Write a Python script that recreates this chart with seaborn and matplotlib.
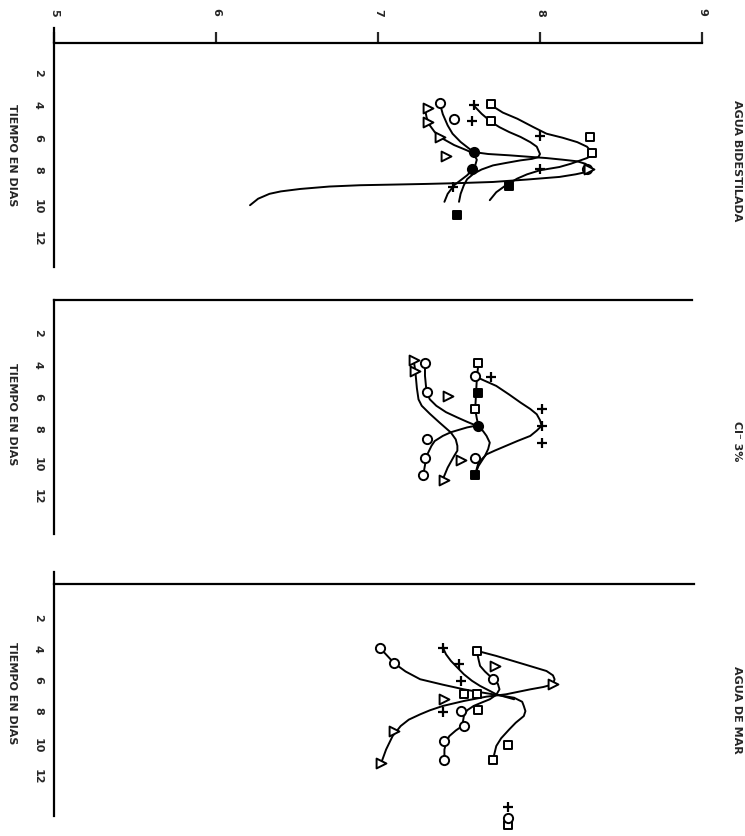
import pandas as pd
import seaborn as sns
import matplotlib.pyplot as plt

PH_TICKS = [5, 6, 7, 8, 9]
DAY_TICKS = [2, 4, 6, 8, 10, 12]
TITLES = ['AGUA BIDESTILADA', 'Cl\u207b 3%', 'AGUA DE MAR']
XLABEL = 'TIEMPO EN DIAS'

# ---- panel 1 : agua bidestilada  (day, pH)
p1_open_sq = [(4, 7.70), (5, 7.70), (6, 8.31), (7, 8.32)]
p1_open_ci = [(3.9, 7.38), (4.9, 7.47), (8, 8.29)]
p1_tri = [(4.2, 7.31), (5.1, 7.31), (6, 7.38), (7.2, 7.42), (8, 8.30)]
p1_plus = [(4.05, 7.59), (5, 7.58), (5.95, 8.0), (8, 8.0), (9.1, 7.46)]
p1_fill_ci = [(6.95, 7.59), (7.95, 7.58)]
p1_fill_sq = [(9, 7.81), (10.8, 7.49)]

p1_curve_sq = [(4.06, 7.70), (4.5, 7.77), (4.88, 7.86), (5.4, 7.96), (5.80, 8.04), (6.05, 8.14),
               (6.32, 8.23), (6.6, 8.29), (6.83, 8.31), (7.13, 8.32), (7.3, 8.29), (7.44, 8.25),
               (7.65, 8.19), (7.85, 8.12), (8.05, 8.0), (8.3, 7.92), (8.56, 7.86), (8.97, 7.79),
               (9.4, 7.73), (9.89, 7.69)]
p1_curve_plus = [(4.06, 7.59), (4.58, 7.64), (5.09, 7.70), (5.4, 7.75), (5.70, 7.81), (6.0, 7.88),
                 (6.32, 7.94), (6.6, 7.98), (6.83, 7.99), (7.05, 8.0), (7.24, 7.99), (7.35, 7.95),
                 (7.44, 7.88), (7.6, 7.79), (7.75, 7.71), (8.0, 7.64), (8.26, 7.59), (8.6, 7.55),
                 (8.97, 7.53), (9.5, 7.51), (9.99, 7.50)]
p1_curve_ci = [(3.86, 7.38), (4.6, 7.40), (5.29, 7.43), (5.8, 7.46), (6.31, 7.51), (6.7, 7.56),
               (6.93, 7.59), (7.05, 7.68), (7.13, 7.81), (7.22, 7.93), (7.30, 8.04), (7.40, 8.14),
               (7.50, 8.23), (7.65, 8.28), (7.85, 8.31), (8.0, 8.31), (8.15, 8.29), (8.3, 8.22),
               (8.46, 8.12), (8.62, 7.92), (8.77, 7.71), (8.84, 7.50), (8.89, 7.30), (8.93, 7.10),
               (8.97, 6.89), (9.05, 6.70), (9.2, 6.52), (9.35, 6.40), (9.5, 6.33), (9.8, 6.26),
               (10.2, 6.21)]
p1_curve_tri = [(4.27, 7.29), (4.8, 7.30), (5.29, 7.32), (5.7, 7.35), (6.11, 7.40), (6.5, 7.47),
                (6.83, 7.55), (7.03, 7.59), (7.4, 7.61), (7.75, 7.60), (8.05, 7.58), (8.36, 7.55),
                (8.97, 7.47), (9.5, 7.43), (9.99, 7.41)]

# ---- panel 2 : Cl- 3 %
p2_open_sq = [(3.9, 7.62), (6.8, 7.60)]
p2_open_ci = [(3.9, 7.29), (4.77, 7.60), (5.77, 7.30), (8.7, 7.30), (9.83, 7.29), (9.83, 7.60), (10.9, 7.28)]
p2_tri = [(3.75, 7.22), (4.4, 7.23), (5.98, 7.43), (10.0, 7.51), (11.2, 7.41)]
p2_plus = [(4.83, 7.70), (6.8, 8.01), (7.85, 8.01), (8.9, 8.01)]
p2_fill_ci = [(7.85, 7.62)]
p2_fill_sq = [(5.83, 7.62), (10.9, 7.60)]

p2_curve_a = [(3.9, 7.29), (4.73, 7.29), (5.77, 7.30), (6.2, 7.32), (6.6, 7.36), (7.0, 7.42),
              (7.33, 7.49), (7.6, 7.55), (7.81, 7.60)]
p2_curve_b = [(3.75, 7.22), (4.4, 7.23), (5.5, 7.24), (6.2, 7.25), (6.6, 7.27), (7.1, 7.32),
              (7.65, 7.38), (8.27, 7.45), (8.7, 7.48), (9.1, 7.49), (9.4, 7.49), (9.73, 7.47),
              (10.46, 7.43), (11.19, 7.40)]
p2_curve_c = [(3.9, 7.62), (4.94, 7.61), (6.81, 7.60), (7.4, 7.61), (7.85, 7.62), (8.2, 7.65),
              (8.48, 7.67), (8.9, 7.69), (9.3, 7.68), (9.73, 7.66), (10.36, 7.62), (10.88, 7.60)]
p2_curve_d = [(4.77, 7.60), (5.0, 7.65), (5.36, 7.73), (5.9, 7.81), (6.4, 7.88), (6.8, 7.94),
              (7.13, 7.98), (7.5, 8.0), (7.85, 8.01), (8.15, 7.98), (8.48, 7.94), (8.8, 7.86),
              (9.1, 7.79), (9.4, 7.72), (9.63, 7.67), (10.15, 7.62), (10.88, 7.60)]
p2_curve_e = [(7.85, 7.60), (7.95, 7.55), (8.07, 7.51), (8.25, 7.45), (8.48, 7.40), (8.8, 7.35),
              (9.1, 7.33), (9.73, 7.30), (10.88, 7.28)]

# ---- panel 3 : agua de mar
p3_open_sq = [(4.17, 7.61), (6.97, 7.53), (6.97, 7.61), (7.98, 7.62), (10.26, 7.80), (11.2, 7.71), (15.4, 7.80)]
p3_open_ci = [(3.96, 7.01), (4.97, 7.10), (5.96, 7.71), (8.05, 7.51), (9.0, 7.53), (9.98, 7.41),
              (11.2, 7.41), (14.9, 7.80)]
p3_tri = [(5.14, 7.72), (6.3, 8.08), (7.3, 7.41), (9.34, 7.10), (11.4, 7.02)]
p3_plus = [(3.96, 7.40), (5.03, 7.50), (6.11, 7.51), (8.1, 7.40), (14.2, 7.80)]
p3_fill_ci = []
p3_fill_sq = []

p3_curve_a = [(3.96, 7.01), (4.97, 7.10), (5.5, 7.17), (6.0, 7.26), (6.35, 7.40), (6.65, 7.53),
              (6.85, 7.64), (6.97, 7.71), (7.19, 7.84), (7.45, 7.89), (7.72, 7.90), (8.05, 7.91),
              (8.37, 7.90), (8.8, 7.85), (9.23, 7.81), (9.8, 7.76), (10.3, 7.73), (11.16, 7.71)]
p3_curve_b = [(3.96, 7.40), (4.4, 7.42), (4.82, 7.45), (5.25, 7.49), (5.68, 7.53), (6.1, 7.58),
              (6.43, 7.63), (6.75, 7.69), (6.97, 7.73), (7.29, 7.84)]
p3_curve_c = [(4.17, 7.61), (4.5, 7.73), (5.03, 7.90), (5.47, 8.04), (5.75, 8.08), (6.0, 8.09),
              (6.33, 8.08), (6.5, 8.02), (6.65, 7.94), (6.97, 7.79), (7.12, 7.67), (7.4, 7.53),
              (7.72, 7.40), (8.0, 7.32), (8.26, 7.26), (8.6, 7.19), (9.01, 7.14), (9.66, 7.09),
              (10.52, 7.05), (11.38, 7.02)]
p3_curve_d = [(4.17, 7.61), (4.7, 7.62), (5.14, 7.63), (5.5, 7.66), (5.79, 7.69), (5.96, 7.71),
              (6.3, 7.74), (6.65, 7.75), (7.0, 7.73), (7.29, 7.69), (7.5, 7.64), (7.72, 7.59),
              (8.0, 7.55), (8.37, 7.53), (9.01, 7.52), (9.3, 7.48), (9.66, 7.44), (10.1, 7.42),
              (10.52, 7.41), (11.16, 7.41)]

panels = [
    dict(points=[p1_open_sq, p1_open_ci, p1_tri, p1_plus, p1_fill_ci, p1_fill_sq],
         curves=[p1_curve_sq, p1_curve_plus, p1_curve_ci, p1_curve_tri]),
    dict(points=[p2_open_sq, p2_open_ci, p2_tri, p2_plus, p2_fill_ci, p2_fill_sq],
         curves=[p2_curve_a, p2_curve_b, p2_curve_c, p2_curve_d, p2_curve_e]),
    dict(points=[p3_open_sq, p3_open_ci, p3_tri, p3_plus, p3_fill_ci, p3_fill_sq],
         curves=[p3_curve_a, p3_curve_b, p3_curve_c, p3_curve_d]),
]

# marker style for each point group, same order as above
marker_styles = [
    dict(marker='s', facecolor='white', s=40),
    dict(marker='o', facecolor='white', s=44),
    dict(marker='>', facecolor='white', s=50),
    dict(marker='+', facecolor='black', s=48),
    dict(marker='o', facecolor='black', s=44),
    dict(marker='s', facecolor='black', s=40),
]

sns.set_style('white')
plt.rcParams['font.family'] = ['DejaVu Sans']

W, H = 745, 837
fig = plt.figure(figsize=(W / 100, H / 100), dpi=100)

# pixel boxes (top, bottom) of each panel, day limits, top-line position
boxes = [(29, 268), (301, 535), (573, 817)]
ylims = [(14.0, -0.7), (14.6, 0.0), (14.8, -0.9)]
top_line = [0.937, 1.0, 0.951]
line_end = [9.0, 8.94, 8.95]
xlabel_y = [155, 414, 693]
title_y = [161, 441, 710]

for i, pan in enumerate(panels):
    top, bot = boxes[i]
    ax = fig.add_axes([54 / W, 1 - bot / H, 648 / W, (bot - top) / H])
    ax.set_xlim(5, 9)
    ax.set_ylim(*ylims[i])

    for cv in pan['curves']:
        df = pd.DataFrame(cv, columns=['day', 'ph'])
        sns.lineplot(data=df, x='ph', y='day', sort=False, estimator=None,
                     color='black', lw=1.4, ax=ax, zorder=2)
    for pts, st in zip(pan['points'], marker_styles):
        if not pts:
            continue
        df = pd.DataFrame(pts, columns=['day', 'ph'])
        if st['marker'] == '+':
            sns.scatterplot(data=df, x='ph', y='day', marker='+', color='black',
                            s=st['s'], linewidth=1.6, ax=ax, zorder=3, clip_on=False)
        else:
            sns.scatterplot(data=df, x='ph', y='day', marker=st['marker'],
                            facecolor=st['facecolor'], edgecolor='black',
                            s=st['s'], linewidth=1.4, ax=ax, zorder=3, clip_on=False)

    ax.spines['right'].set_visible(False)
    ax.spines['bottom'].set_visible(False)
    for side in ['top', 'left']:
        ax.spines[side].set_linewidth(1.6)
        ax.spines[side].set_color('black')
    ax.spines['top'].set_position(('axes', top_line[i]))
    ax.spines['top'].set_bounds(5, line_end[i])

    ax.xaxis.tick_top()
    if i == 0:
        ax.set_xticks(PH_TICKS)
        ax.set_xticklabels([str(v) for v in PH_TICKS])
        ax.tick_params(axis='x', direction='out', length=8, width=1.6, pad=12,
                       labelrotation=-90, labelsize=8)
    else:
        ax.set_xticks([])
    ax.set_yticks(DAY_TICKS)
    ax.set_yticklabels([str(v) for v in DAY_TICKS])
    ax.tick_params(axis='y', direction='out', length=3, width=1.2, pad=5,
                   labelrotation=-90, labelsize=8)
    for lab in ax.get_xticklabels() + ax.get_yticklabels():
        lab.set_fontweight('bold')
    ax.set_xlabel('')
    ax.set_ylabel('')

    fig.text(12 / W, 1 - xlabel_y[i] / H, XLABEL, rotation=270, ha='center', va='center',
             fontsize=8, fontweight='bold')
    fig.text(737 / W, 1 - title_y[i] / H, TITLES[i], rotation=270, ha='center', va='center',
             fontsize=8, fontweight='bold')

fig.savefig('out.png', dpi=100, facecolor='white')
